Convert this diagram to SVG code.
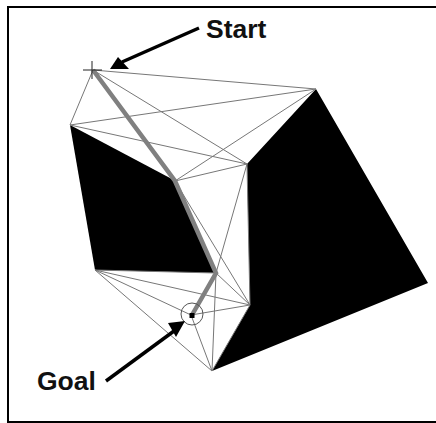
<svg xmlns="http://www.w3.org/2000/svg" width="436" height="423" viewBox="0 0 436 423">
<style>
.ob{fill:#000}
.e{stroke:#777;stroke-width:1;fill:none}
.lb{font-family:"Liberation Sans",Arial,sans-serif;font-size:26.5px;font-weight:bold;fill:#111}
.ar{stroke:#000;stroke-width:3.5;fill:none}
</style>
<rect width="436" height="423" fill="#fff"/>
<path d="M436,7 H8 V422 H436" fill="none" stroke="#000" stroke-width="2"/>
<g id="obstacles">
<polygon class="ob" points="70,125 170,178 175,181 216,273 95,270"/>
<polygon class="ob" points="316,89 428,283 212,371 250,305 247,164"/>
</g>
<g id="connectors">
<path class="e" d="M93,70 L316,89 M93,70 L70,125 M93,70 L247,164 M70,125 L316,89 M70,125 L247,164 M175,181 L316,89 M175,181 L247,164 M175,181 L250,305 M247,164 L250,305 M247,164 L216,273 M95,270 L216,273 M95,270 L250,305 M95,270 L191,315 M95,270 L212,371 M216,273 L212,371 M191,315 L250,305 M191,315 L212,371 M250,305 L212,371 M216,273 L250,305"/>
<polyline points="93,70 175,181 216,273 192,315" fill="none" stroke="#808080" stroke-width="4.5"/>
</g>
<g id="start"><path d="M83,70 H102 M92,61 V79" stroke="#222" stroke-width="1" fill="none"/></g>
<g id="goal"><circle cx="192" cy="314" r="11" fill="none" stroke="#555" stroke-width="1"/><rect x="189.500" y="313" width="5" height="5" fill="#000"/></g>
<g id="label-start"><text class="lb" x="206" y="38">Start</text><path class="ar" d="M199,28 L122,62"/><polygon points="110,69 118,57 129,69" fill="#000"/></g>
<g id="label-goal"><text class="lb" x="37" y="390">Goal</text><path class="ar" d="M106,381 L174,331"/><polygon points="185,321 168,323 176,337" fill="#000"/></g>
</svg>
